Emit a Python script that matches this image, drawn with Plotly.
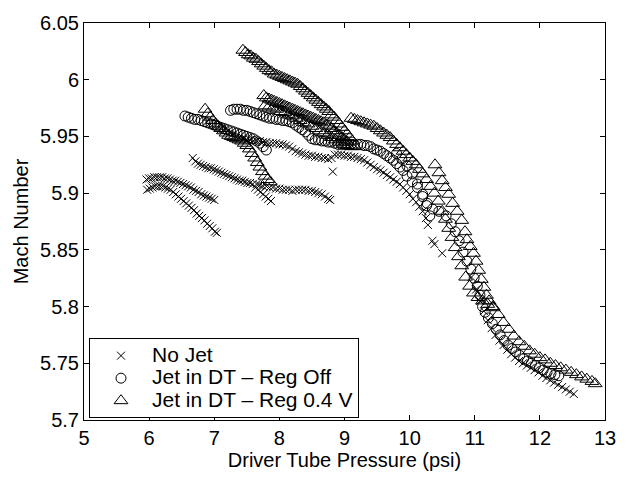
import plotly.graph_objects as go

# ---------------- data ----------------
# No Jet
nojet_x = [
    # upper left arc
    5.96, 6.00, 6.04, 6.08, 6.12, 6.16, 6.20, 6.24, 6.28, 6.32, 6.36, 6.40, 6.44, 6.48,
    6.52, 6.56, 6.60, 6.64, 6.68, 6.72, 6.76, 6.80, 6.84, 6.88, 6.92, 6.96, 7.00,
    # lower left arc
    5.97, 6.01, 6.05, 6.09, 6.13, 6.17, 6.21, 6.25, 6.29, 6.33, 6.37, 6.41, 6.45, 6.49,
    6.53, 6.57, 6.61, 6.65, 6.69, 6.73, 6.77, 6.81, 6.85, 6.89, 6.93, 6.97, 7.01, 7.04,
    # middle run
    6.67, 6.71, 6.75, 6.79, 6.83, 6.87, 6.91, 6.95, 6.99, 7.03, 7.07, 7.11, 7.15, 7.19,
    7.23, 7.27, 7.31, 7.35, 7.39, 7.43, 7.47, 7.51, 7.55, 7.59,
    7.63, 7.67, 7.71, 7.75, 7.79, 7.83, 7.87,
    7.65, 7.70, 7.75, 7.80, 7.85, 7.90, 7.95, 8.00, 8.05, 8.10, 8.15, 8.20, 8.25, 8.30,
    8.35, 8.40, 8.45, 8.50, 8.55, 8.60, 8.65, 8.70, 8.75, 8.78,
    # upper run
    7.45, 7.50, 7.55, 7.60, 7.65, 7.70, 7.75, 7.80, 7.85, 7.90, 7.95, 8.00, 8.05, 8.10,
    8.15, 8.20, 8.25, 8.30, 8.35, 8.40, 8.45, 8.50, 8.55, 8.60, 8.65, 8.70, 8.75, 8.80,
    8.82,
    # main descending run
    8.85, 8.90, 8.95, 9.00, 9.05, 9.10, 9.15, 9.20, 9.25, 9.30, 9.35, 9.40, 9.45, 9.50,
    9.55, 9.60, 9.65, 9.70, 9.75, 9.80, 9.85, 9.90, 9.95, 10.00, 10.05, 10.10, 10.15,
    10.20, 10.25, 10.28, 10.35, 10.38, 10.50,
    10.95, 11.02, 11.08, 11.14, 11.20, 11.26, 11.32, 11.38, 11.44, 11.50, 11.56, 11.62,
    11.68, 11.74, 11.80, 11.86, 11.92, 11.98, 12.04, 12.10, 12.16, 12.22, 12.28, 12.34,
    12.40, 12.46, 12.52,
]
nojet_y = [
    5.912, 5.913, 5.913, 5.914, 5.914, 5.914, 5.914, 5.913, 5.913, 5.912, 5.911, 5.911, 5.910, 5.909,
    5.908, 5.907, 5.906, 5.905, 5.903, 5.902, 5.901, 5.899, 5.898, 5.897, 5.896, 5.895, 5.894,
    5.903, 5.904, 5.905, 5.906, 5.906, 5.906, 5.906, 5.905, 5.904, 5.903, 5.901, 5.899, 5.897, 5.895,
    5.893, 5.891, 5.889, 5.887, 5.885, 5.882, 5.880, 5.878, 5.876, 5.873, 5.871, 5.869, 5.866, 5.865,
    5.931, 5.928, 5.926, 5.925, 5.924, 5.923, 5.922, 5.922, 5.921, 5.920, 5.919, 5.918, 5.917, 5.916,
    5.915, 5.914, 5.913, 5.912, 5.911, 5.911, 5.910, 5.909, 5.909, 5.908,
    5.905, 5.903, 5.901, 5.899, 5.897, 5.895, 5.893,
    5.908, 5.907, 5.906, 5.906, 5.905, 5.905, 5.904, 5.904, 5.903, 5.903, 5.903, 5.902, 5.903, 5.903,
    5.903, 5.903, 5.902, 5.902, 5.901, 5.900, 5.899, 5.897, 5.895, 5.894,
    5.948, 5.947, 5.947, 5.946, 5.946, 5.946, 5.945, 5.945, 5.944, 5.944, 5.944, 5.943, 5.943, 5.942,
    5.941, 5.939, 5.937, 5.936, 5.935, 5.934, 5.933, 5.933, 5.932, 5.932, 5.931, 5.931, 5.930, 5.931,
    5.919,
    5.934, 5.934, 5.934, 5.933, 5.933, 5.932, 5.932, 5.931, 5.930, 5.929, 5.927, 5.925, 5.923, 5.921,
    5.920, 5.918, 5.916, 5.914, 5.912, 5.910, 5.908, 5.905, 5.902, 5.899, 5.895, 5.892, 5.888,
    5.884, 5.878, 5.872, 5.858, 5.855, 5.847,
    5.826, 5.815, 5.805, 5.796, 5.788, 5.781, 5.775, 5.770, 5.766, 5.762, 5.758, 5.755,
    5.752, 5.750, 5.748, 5.746, 5.744, 5.742, 5.739, 5.737, 5.735, 5.733, 5.731, 5.729,
    5.727, 5.725, 5.723,
]

# Jet in DT - Reg Off
regoff_x = [
    6.55, 6.60, 6.65, 6.70, 6.75, 6.80, 6.85, 6.90, 6.95, 7.00, 7.05, 7.10, 7.15, 7.20,
    7.25, 7.30, 7.35, 7.40, 7.45, 7.50, 7.55, 7.60, 7.65, 7.70, 7.75, 7.80,
    7.25, 7.30, 7.35, 7.40, 7.45, 7.50, 7.55, 7.60, 7.65, 7.70, 7.75, 7.80, 7.85, 7.90,
    7.95, 8.00, 8.05, 8.10, 8.15, 8.20, 8.25, 8.30, 8.35, 8.40, 8.45, 8.50, 8.55, 8.60,
    8.65, 8.70, 8.75, 8.80, 8.85, 8.90, 8.95, 9.00, 9.05, 9.10, 9.15, 9.20, 9.25, 9.30,
    9.35, 9.40, 9.45, 9.50, 9.55, 9.60, 9.65, 9.70, 9.75, 9.80, 9.85, 9.90, 9.96, 10.04,
    10.12, 10.20, 10.26, 10.31,
    9.80, 9.88, 9.96, 10.04, 10.12, 10.20, 10.27, 10.35, 10.45, 10.56, 10.64, 10.70, 10.76,
    10.82, 10.88, 10.94, 10.99, 11.04, 11.08, 11.12, 11.16, 11.21, 11.27, 11.33, 11.39,
    11.45, 11.51, 11.57, 11.63, 11.69, 11.75, 11.81, 11.87, 11.93, 11.99, 12.05, 12.11,
    12.17, 12.23, 12.29,
]
regoff_y = [
    5.968, 5.967, 5.966, 5.965, 5.965, 5.964, 5.963, 5.962, 5.961, 5.960, 5.959, 5.958, 5.957, 5.956,
    5.955, 5.954, 5.953, 5.952, 5.951, 5.950, 5.949, 5.948, 5.946, 5.944, 5.941, 5.938,
    5.973, 5.974, 5.974, 5.974, 5.973, 5.973, 5.972, 5.971, 5.970, 5.969, 5.968, 5.967, 5.966, 5.966,
    5.965, 5.965, 5.964, 5.964, 5.963, 5.962, 5.960, 5.958, 5.956, 5.954, 5.951, 5.948, 5.947, 5.947,
    5.946, 5.946, 5.945, 5.945, 5.944, 5.943, 5.943, 5.943, 5.943, 5.943, 5.943, 5.943, 5.943, 5.942,
    5.942, 5.941, 5.939, 5.938, 5.937, 5.935, 5.933, 5.931, 5.929, 5.926, 5.923, 5.920, 5.915, 5.910,
    5.905, 5.897, 5.889, 5.880,
    5.935, 5.930, 5.924, 5.917, 5.908, 5.899, 5.891, 5.886, 5.884, 5.880, 5.873, 5.866, 5.858,
    5.848, 5.840, 5.833, 5.825, 5.818, 5.810, 5.800, 5.795, 5.790, 5.785, 5.780, 5.775,
    5.770, 5.766, 5.763, 5.760, 5.757, 5.754, 5.752, 5.750, 5.748, 5.746, 5.744, 5.742,
    5.741, 5.740, 5.739,
]

# Jet in DT - Reg 0.4 V
reg04_x = [
    7.44, 7.48, 7.52, 7.56, 7.60, 7.64, 7.68, 7.72, 7.76, 7.80, 7.84, 7.88, 7.92, 7.96,
    8.00, 8.04, 8.08, 8.12, 8.16, 8.20, 8.24, 8.28, 8.32, 8.36, 8.40, 8.44, 8.48, 8.52,
    8.56, 8.60, 8.64, 8.68, 8.72, 8.76, 8.80, 8.84, 8.88, 8.92, 8.96, 9.00, 9.04, 9.08, 9.12,
    7.76, 7.80, 7.84, 7.88, 7.92, 7.96, 8.00, 8.04, 8.08, 8.12, 8.16, 8.20, 8.24, 8.28,
    8.32, 8.36, 8.40, 8.44, 8.48, 8.52, 8.56, 8.60, 8.64, 8.68, 8.72, 8.76, 8.80, 8.84,
    8.88, 8.92, 8.96, 9.00, 9.04,
    7.78, 7.84, 7.90, 7.96, 8.02, 8.08, 8.14, 8.20, 8.26, 8.32, 8.38, 8.44, 8.50, 8.56,
    8.62, 8.68, 8.74, 8.80, 8.86, 8.92, 8.98, 9.04, 9.10, 9.16,
    6.86, 6.90, 6.94, 6.98, 7.02, 7.06, 7.10, 7.14, 7.18, 7.22, 7.26, 7.30, 7.34, 7.38,
    7.42, 7.46, 7.50, 7.54, 7.58, 7.62, 7.66, 7.70, 7.74, 7.78, 7.82, 7.86,
    9.10, 9.15, 9.20, 9.25, 9.30, 9.35, 9.40, 9.45, 9.50, 9.55, 9.60, 9.65, 9.70, 9.75,
    9.80, 9.85, 9.90, 9.95, 10.00, 10.05, 10.10, 10.15, 10.20, 10.26, 10.32, 10.38, 10.44,
    10.50, 10.55, 10.60, 10.65, 10.70, 10.75, 10.80, 10.86, 10.92, 10.98, 11.05, 11.12,
    11.20, 11.28, 11.36, 11.44, 11.52, 11.60, 11.68, 11.76, 11.84, 11.92, 12.00, 12.08,
    12.16, 12.24, 12.32, 12.40, 12.48, 12.56, 12.64, 12.72, 12.80, 12.85,
    10.39, 10.45, 10.50, 10.55, 10.60, 10.66, 10.73, 10.80, 10.85, 10.88, 10.93, 10.98,
    11.02, 11.06, 11.10, 11.14, 11.18, 11.22, 11.28,
]
reg04_y = [
    6.026, 6.024, 6.022, 6.021, 6.019, 6.018, 6.016, 6.014, 6.012, 6.010, 6.008, 6.007, 6.005, 6.004,
    6.003, 6.002, 6.001, 6.000, 5.999, 5.998, 5.997, 5.996, 5.994, 5.992, 5.990, 5.988, 5.986, 5.984,
    5.982, 5.980, 5.978, 5.976, 5.974, 5.972, 5.969, 5.967, 5.964, 5.961, 5.958, 5.955, 5.952, 5.949, 5.946,
    5.986, 5.984, 5.983, 5.982, 5.981, 5.980, 5.979, 5.978, 5.977, 5.976, 5.975, 5.974, 5.973, 5.972,
    5.971, 5.970, 5.969, 5.968, 5.967, 5.966, 5.965, 5.964, 5.963, 5.962, 5.960, 5.959, 5.957, 5.955,
    5.953, 5.951, 5.949, 5.947, 5.945,
    5.977, 5.976, 5.975, 5.974, 5.972, 5.971, 5.969, 5.968, 5.966, 5.964, 5.962, 5.961, 5.959, 5.957,
    5.955, 5.953, 5.951, 5.949, 5.947, 5.945, 5.943, 5.942, 5.941, 5.941,
    5.974, 5.970, 5.967, 5.964, 5.961, 5.959, 5.957, 5.955, 5.953, 5.951, 5.950, 5.949, 5.948, 5.947,
    5.946, 5.944, 5.942, 5.939, 5.935, 5.931, 5.927, 5.923, 5.919, 5.915, 5.912, 5.910,
    5.966, 5.965, 5.964, 5.963, 5.962, 5.961, 5.960, 5.959, 5.957, 5.955, 5.953, 5.951, 5.949, 5.946,
    5.943, 5.940, 5.937, 5.934, 5.931, 5.928, 5.925, 5.921, 5.917, 5.912, 5.906, 5.900, 5.893,
    5.884, 5.877, 5.869, 5.861, 5.852, 5.844, 5.836, 5.826, 5.818, 5.812, 5.808, 5.805,
    5.802, 5.799, 5.793, 5.786, 5.780, 5.774, 5.769, 5.765, 5.761, 5.758, 5.755, 5.753,
    5.750, 5.748, 5.746, 5.744, 5.742, 5.740, 5.738, 5.736, 5.734, 5.732,
    5.925, 5.918, 5.911, 5.905, 5.899, 5.891, 5.884, 5.876, 5.866, 5.859, 5.853, 5.847,
    5.840, 5.832, 5.824, 5.817, 5.810, 5.805, 5.800,
]

series_names = ["No Jet", "Jet in DT \u2013 Reg Off", "Jet in DT \u2013 Reg 0.4 V"]

x_ticks = [5, 6, 7, 8, 9, 10, 11, 12, 13]
y_ticks = [5.7, 5.75, 5.8, 5.85, 5.9, 5.95, 6.0, 6.05]
y_ticktext = ["5.7", "5.75", "5.8", "5.85", "5.9", "5.95", "6", "6.05"]

FONT = "Liberation Sans, Arial, Helvetica, sans-serif"


def legend_label(name):
    # larger visible text while keeping the compact legend row spacing
    return '<span style="font-size:21px">' + name + "</span>"


fig = go.Figure()
fig.add_trace(go.Scatter(
    x=nojet_x, y=nojet_y, mode="markers", name=legend_label(series_names[0]),
    marker=dict(symbol="x-thin-open", size=8, color="black",
                line=dict(color="black", width=1)),
))
fig.add_trace(go.Scatter(
    x=regoff_x, y=regoff_y, mode="markers", name=legend_label(series_names[1]),
    marker=dict(symbol="circle-open", size=10, color="black",
                line=dict(color="black", width=1)),
))
fig.add_trace(go.Scatter(
    x=reg04_x, y=reg04_y, mode="markers", name=legend_label(series_names[2]),
    marker=dict(symbol="triangle-up-open", size=12, color="black",
                line=dict(color="black", width=1)),
))

axis_common = dict(
    showline=True, linecolor="black", linewidth=1, mirror="ticks",
    ticks="inside", ticklen=5, tickcolor="black", tickwidth=1,
    showgrid=False, zeroline=False,
    tickfont=dict(family=FONT, size=20, color="black"),
)

fig.update_layout(
    width=630, height=477,
    margin=dict(l=84, r=25, t=14, b=53),
    paper_bgcolor="white", plot_bgcolor="white",
    font=dict(family=FONT, size=20, color="black"),
    showlegend=True,
    legend=dict(
        x=0.0096, y=0.004, xanchor="left", yanchor="bottom",
        bordercolor="black", borderwidth=1, bgcolor="white",
        font=dict(family=FONT, size=15, color="black"),
        itemwidth=52, tracegroupgap=0,
    ),
    xaxis=dict(range=[5, 13], tickvals=x_ticks, ticktext=[str(v) for v in x_ticks],
               title=dict(text="Driver Tube Pressure (psi)", standoff=2,
                          font=dict(family=FONT, size=20, color="black")),
               **axis_common),
    yaxis=dict(range=[5.7, 6.05], tickvals=y_ticks, ticktext=y_ticktext,
               title=dict(text="Mach Number", standoff=6,
                          font=dict(family=FONT, size=20, color="black")),
               **axis_common),
)

fig.write_html("out.html")
